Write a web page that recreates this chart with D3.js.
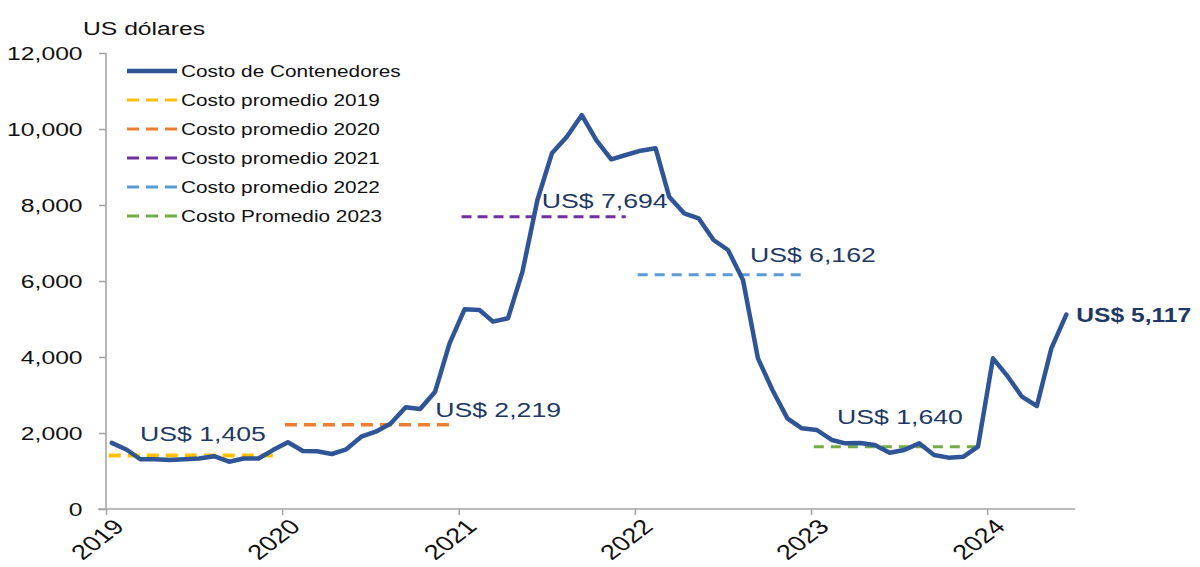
<!DOCTYPE html>
<html>
<head>
<meta charset="utf-8">
<script src="https://cdn.jsdelivr.net/npm/d3@7"></script>
<style>
  body { margin: 0; background: #fff; }
  svg { display: block; font-family: 'Liberation Sans', Arial, sans-serif; }
</style>
</head>
<body>
<div class="visHolder"></div>
<script>
// Monthly container cost (US dollars), Jan 2019 - Jun 2024
var months = [
  '2019-01', '2019-02', '2019-03', '2019-04', '2019-05', '2019-06', '2019-07', '2019-08', '2019-09', '2019-10', '2019-11', '2019-12',
  '2020-01', '2020-02', '2020-03', '2020-04', '2020-05', '2020-06', '2020-07', '2020-08', '2020-09', '2020-10', '2020-11', '2020-12',
  '2021-01', '2021-02', '2021-03', '2021-04', '2021-05', '2021-06', '2021-07', '2021-08', '2021-09', '2021-10', '2021-11', '2021-12',
  '2022-01', '2022-02', '2022-03', '2022-04', '2022-05', '2022-06', '2022-07', '2022-08', '2022-09', '2022-10', '2022-11', '2022-12',
  '2023-01', '2023-02', '2023-03', '2023-04', '2023-05', '2023-06', '2023-07', '2023-08', '2023-09', '2023-10', '2023-11', '2023-12',
  '2024-01', '2024-02', '2024-03', '2024-04', '2024-05', '2024-06'
];
var costs = [
  1740, 1560, 1310, 1310, 1290, 1310, 1330, 1390, 1245, 1330, 1330, 1550,
  1755, 1526, 1520, 1447, 1570, 1903, 2035, 2250, 2676, 2632, 3088, 4360,
  5254, 5237, 4930, 5018, 6246, 8132, 9360, 9798, 10368, 9710, 9202, 9316,
  9430, 9492, 8219, 7781, 7650, 7079, 6816, 6026, 3965, 3132, 2386, 2123,
  2079, 1816, 1728, 1737, 1684, 1482, 1553, 1728, 1421, 1351, 1377, 1640,
  3965, 3482, 2955, 2711, 4228, 5117
];

// Yearly averages
var avgYears = [2019, 2020, 2021, 2022, 2023];
var avgValues = [1405, 2219, 7694, 6162, 1640];
var avgNames = ['Costo promedio 2019', 'Costo promedio 2020', 'Costo promedio 2021', 'Costo promedio 2022', 'Costo Promedio 2023'];
var avgColors = ['#FFC000', '#ED7D31', '#7030A0', '#5B9BD5', '#70AD47'];

// Axis ticks
var yTicks = [0, 2000, 4000, 6000, 8000, 10000, 12000];
var xTickYears = [2019, 2020, 2021, 2022, 2023, 2024];
var seriesName = 'Costo de Contenedores';
var unitLabel = 'US dólares';

// Dimensions
var width = 1200,
height = 567,
stretch = 1.3; // text in the original is stretched horizontally

var dashStyle = ['12,7', '12,7', '10,6', '10,7', '10,7'];
var dashWidth = [4, 3.5, 3, 3, 3];
// label nudges relative to (start of year, average line)
var labelNudge = [[34, -15], [153, -8], [83, -9], [115, -13], [26, -23]];

var parseMonth = function (s) {
  var p = s.split('-');
  return new Date(Date.UTC(+p[0], +p[1] - 1, 13));
};
var data = months.map(function (m, i) {
  return { date: parseMonth(m), value: costs[i] };
});

var svg = d3.select('.visHolder').
append('svg').
attr('width', width).
attr('height', height);

svg.append('rect').attr('width', width).attr('height', height).attr('fill', '#fff');

var xScale = d3.scaleUtc().
domain([new Date(Date.UTC(2019, 0, 1)), new Date(Date.UTC(2024, 6, 1))]).
range([106, 1075]);

var yScale = d3.scaleLinear().
domain([0, 12000]).
range([509, 53]);

// stretched text helper
function addText(x, y, str, opts) {
  opts = opts || {};
  return svg.append('text').
  attr('transform', 'translate(' + x + ',' + y + ') scale(' + (opts.stretch || stretch) + ',1)').
  attr('text-anchor', opts.anchor || 'start').
  style('font-size', (opts.size || 20) + 'px').
  style('font-weight', opts.weight || 'normal').
  attr('fill', opts.color || '#000').
  text(str);
}

// Y axis
var yAxis = d3.axisLeft(yScale).
tickValues(yTicks).
tickSize(7).
tickFormat(d3.format(','));

var yAxisGroup = svg.append('g').
attr('transform', 'translate(106,0)').
call(yAxis);
yAxisGroup.select('.domain').attr('stroke', '#A6A6A6').attr('stroke-width', 1.6).attr('d', 'M0,' + yScale(12000) + 'V' + yScale(0));
yAxisGroup.selectAll('.tick line').attr('stroke', '#A6A6A6').attr('stroke-width', 1.6);
yAxisGroup.selectAll('.tick text').
attr('x', -18).
attr('dy', '0.33em').
attr('transform', 'scale(' + stretch + ',1)').
attr('fill', '#111').
style('font-size', '19px').
style('font-family', "'Liberation Sans', Arial, sans-serif");

// X axis
var xAxis = d3.axisBottom(xScale).
tickValues(xTickYears.map(function (y) { return new Date(Date.UTC(y, 0, 1)); })).
tickSize(6).
tickFormat(d3.utcFormat('%Y'));

var xAxisGroup = svg.append('g').
attr('transform', 'translate(0,509)').
call(xAxis);
xAxisGroup.select('.domain').attr('stroke', '#A6A6A6').attr('stroke-width', 1.6).attr('d', 'M98,0H1075');
xAxisGroup.selectAll('.tick line').attr('stroke', '#A6A6A6').attr('stroke-width', 1.6);
xAxisGroup.selectAll('.tick text').
attr('x', 0).
attr('y', 0).
attr('dy', 0).
attr('text-anchor', 'end').
attr('transform', 'translate(19,19) scale(' + stretch + ',1) rotate(-45)').
attr('fill', '#111').
style('font-size', '21px').
style('font-family', "'Liberation Sans', Arial, sans-serif");

// Unit label
addText(83, 35, unitLabel, { size: 19, color: '#111' });

// Average dashed lines
avgYears.forEach(function (yr, i) {
  var first = parseMonth(yr + '-01');
  var last = parseMonth(yr + '-12');
  svg.append('line').
  attr('x1', xScale(first) - 3).
  attr('x2', xScale(last)).
  attr('y1', yScale(avgValues[i])).
  attr('y2', yScale(avgValues[i])).
  attr('stroke', avgColors[i]).
  attr('stroke-width', dashWidth[i]).
  attr('stroke-dasharray', dashStyle[i]);
});

// Main line
var line = d3.line().
x(function (d) { return xScale(d.date); }).
y(function (d) { return yScale(d.value); });

svg.append('path').
datum(data).
attr('d', line).
attr('fill', 'none').
attr('stroke', '#2F5597').
attr('stroke-width', 4.5).
attr('stroke-linejoin', 'round').
attr('stroke-linecap', 'round');

// Average labels
avgYears.forEach(function (yr, i) {
  var x0 = xScale(new Date(Date.UTC(yr, 0, 1)));
  addText(x0 + labelNudge[i][0], yScale(avgValues[i]) + labelNudge[i][1],
  'US$ ' + d3.format(',')(avgValues[i]), { size: 20.5, color: '#203864' });
});

// Last value label (squeezed a little so it stays inside the frame)
var lastPoint = data[data.length - 1];
addText(xScale(lastPoint.date) + 10, yScale(lastPoint.value) + 7,
'US$ ' + d3.format(',')(lastPoint.value), { size: 20.5, color: '#1F3864', weight: 'bold', stretch: 1.2 });

// Legend
var legendItems = [{ name: seriesName, color: '#2F5597', dash: null, w: 4.5 }].concat(
avgNames.map(function (n, i) {
  return { name: n, color: avgColors[i], dash: '12,7', w: 3 };
}));

legendItems.forEach(function (item, i) {
  var cy = 71 + i * 29;
  svg.append('line').
  attr('x1', 127).
  attr('x2', 177).
  attr('y1', cy).
  attr('y2', cy).
  attr('stroke', item.color).
  attr('stroke-width', item.w).
  attr('stroke-dasharray', item.dash);
  addText(181, cy + 6, item.name, { size: 16, color: '#111' });
});
</script>
</body>
</html>
